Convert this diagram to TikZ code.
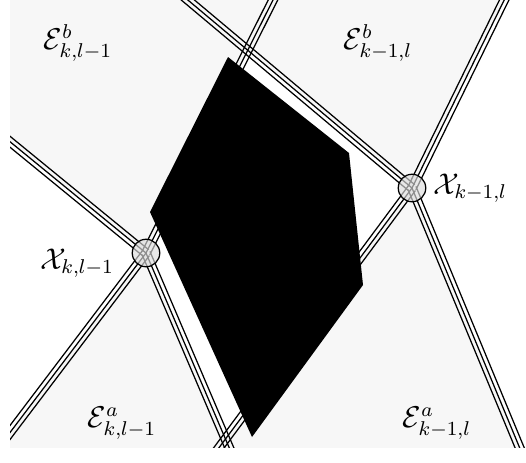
\documentclass[tikz,border=0pt]{standalone}
\usepackage{amsmath,amssymb}
\usepackage{tikz}
\usetikzlibrary{calc,positioning}
\usepackage{xcolor}
\definecolor{regiongray}{gray}{0.97}
\definecolor{ringgray}{gray}{0.86}
\newcommand{\stranddist}{1.7pt}
\tikzset{
  strand/.style={line width=.5pt},
  region/.style={fill=regiongray,draw=none},
  ring/.style={circle,draw,line width=.5pt,fill=ringgray,fill opacity=.65,
    minimum size=11pt,inner sep=0pt},
  region label/.style={font=\large,inner sep=1pt},
  blob/.style={fill=black,draw=none}
}
\newcommand{\TripleEdge}[2]{\draw[strand] (#1) -- (#2)
  ($(#1)!\stranddist!90:(#2)$) -- ($(#2)!\stranddist!-90:(#1)$)
  ($(#1)!\stranddist!-90:(#2)$) -- ($(#2)!\stranddist!90:(#1)$);}

\begin{document}
\begin{tikzpicture}[x=.4pt,y=-.4pt,line cap=butt,line join=miter]
  \useasboundingbox (0,0) rectangle (526,462);
  % crossings and far ends of the edges
  \coordinate (Xa) at (146,253);
  \coordinate (Xb) at (412,188);
  \coordinate (aUL) at (-30,109);
  \coordinate (aUR) at (283,-20);
  \coordinate (aLL) at (-26,480);
  \coordinate (aLR) at (243,480);
  \coordinate (bUL) at (164,-20);
  \coordinate (bUR) at (514,-20);
  \coordinate (bLL) at (195,480);
  \coordinate (bLR) at (533,480);
  \coordinate (P) at (intersection of Xa--aUR and Xb--bUL);
  \coordinate (Q) at (intersection of Xa--aLR and Xb--bLL);

  \begin{scope}
    \clip (10,0) rectangle (526,447);
    \fill[region] (aUL) -- (Xa) -- (P) -- (Xb) -- (bUR) -- (-30,-20) -- cycle;
    \fill[region] (Xa) -- (aLL) -- (bLR) -- (Xb) -- (Q) -- cycle;

    \foreach \u/\v in {Xa/aUL,Xa/aUR,Xa/aLL,Xa/aLR,Xb/bUL,Xb/bUR,Xb/bLL,Xb/bLR}
      {\TripleEdge{\u}{\v}}

    \node[ring] (Xa-ring) at (Xa) {};
    \node[ring] (Xb-ring) at (Xb) {};

    % the dark cell
    \fill[blob] (228,57) -- (349,153) -- (363,285) -- (252,437) -- (150,212) -- cycle;
  \end{scope}

  \node[region label] (Eb-left) at (78,43) {$\mathcal{E}^b_{k,l-1}$};
  \node[region label] (Eb-right) at (378,43) {$\mathcal{E}^b_{k-1,l}$};
  \node[region label] (Ea-left) at (122,423) {$\mathcal{E}^a_{k,l-1}$};
  \node[region label] (Ea-right) at (437,423) {$\mathcal{E}^a_{k-1,l}$};
  \node[region label] (Xa-label) at (77,263) {$\mathcal{X}_{k,l-1}$};
  \node[region label,right=1.5pt of Xb-ring] (Xb-label) {$\mathcal{X}_{k-1,l}$};
\end{tikzpicture}
\end{document}
